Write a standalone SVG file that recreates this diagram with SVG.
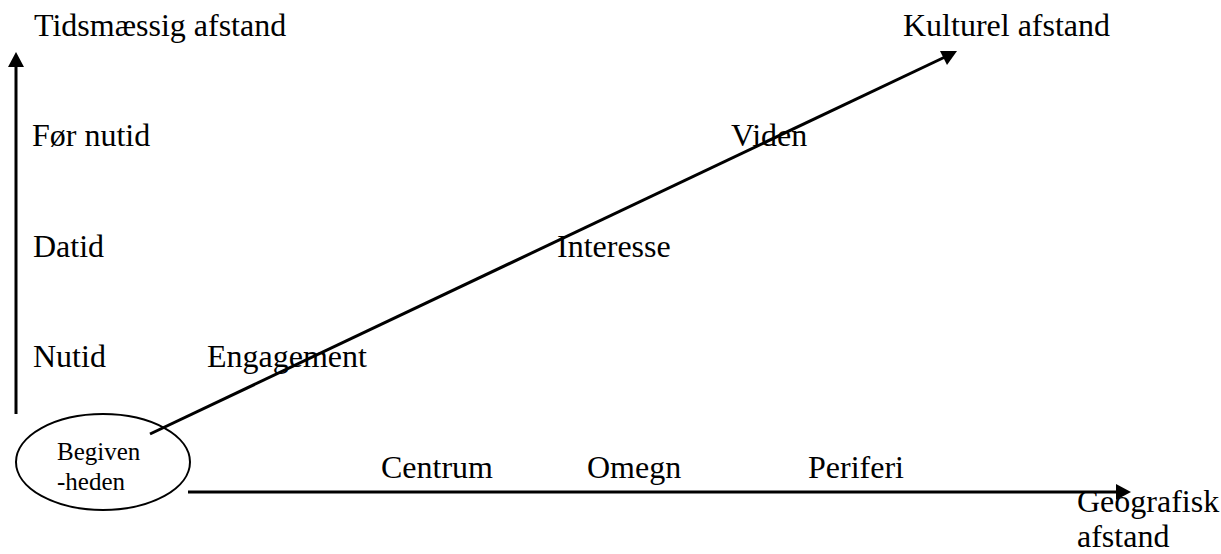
<svg xmlns="http://www.w3.org/2000/svg" width="1221" height="554" viewBox="0 0 1221 554">
<style>
text{font-family:"Liberation Serif","Times New Roman",serif;fill:#000;}
.lbl{font-size:32px;}
.small{font-size:25px;}
.ln{stroke:#000;stroke-width:3;fill:none;}
</style>
<rect width="1221" height="554" fill="#fff"/>
<g id="connectors">
<line class="ln" x1="16" y1="414" x2="16" y2="62"/>
<path d="M16,52 l-8,15 h16 z" fill="#000"/>
<line class="ln" x1="150" y1="434" x2="945" y2="57"/>
<path d="M957,51 l-17,0 l7,14 z" fill="#000"/>
<line class="ln" x1="188" y1="492" x2="1118" y2="492"/>
<path d="M1131,492 l-15,-8 v16 z" fill="#000"/>
</g>
<g id="node-begivenheden">
<ellipse cx="103" cy="462" rx="87" ry="48" fill="none" stroke="#000" stroke-width="2"/>
<text class="small" x="57" y="460">Begiven</text>
<text class="small" x="57" y="490">-heden</text>
</g>
<g id="labels">
<text class="lbl" x="34" y="36">Tidsmæssig afstand</text>
<text class="lbl" x="903" y="36">Kulturel afstand</text>
<text class="lbl" x="32" y="146">Før nutid</text>
<text class="lbl" x="33" y="257">Datid</text>
<text class="lbl" x="33" y="367">Nutid</text>
<text class="lbl" x="207" y="367">Engagement</text>
<text class="lbl" x="557" y="257">Interesse</text>
<text class="lbl" x="731" y="146">Viden</text>
<text class="lbl" x="381" y="478">Centrum</text>
<text class="lbl" x="587" y="478">Omegn</text>
<text class="lbl" x="808" y="478">Periferi</text>
<text class="lbl" x="1077" y="512">Geografisk</text>
<text class="lbl" x="1077" y="547">afstand</text>
</g>
</svg>
